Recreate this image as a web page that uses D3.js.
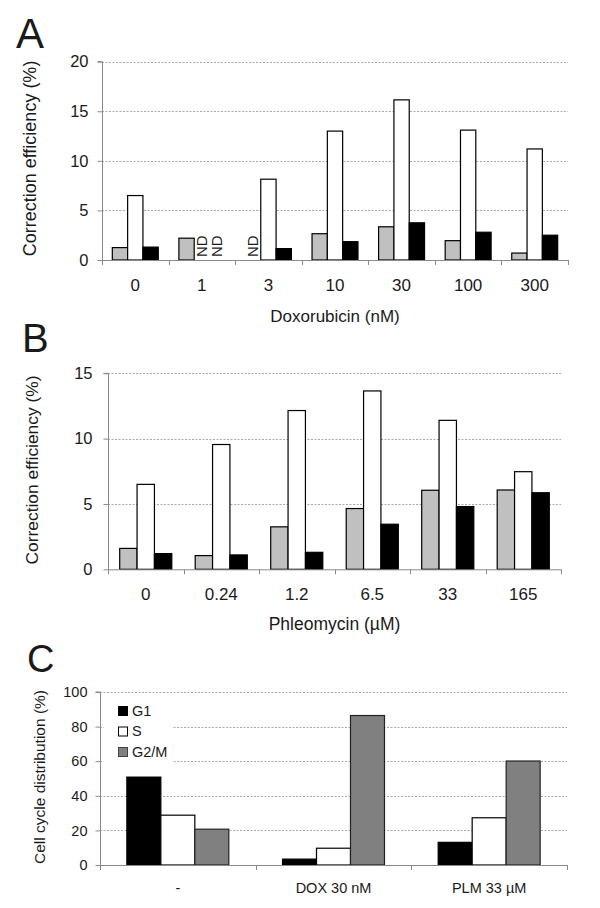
<!DOCTYPE html>
<html><head><meta charset="utf-8">
<script src="https://cdn.jsdelivr.net/npm/d3@7"></script>
<style>body{margin:0;background:#fff}svg{display:block}text{font-family:"Liberation Sans",Arial,sans-serif;fill:#1a1a1a}</style>
</head><body>
<svg id="fig" width="600" height="908"></svg>
<script>
// Panel A – Doxorubicin
const doxCategories = ["0","1","3","10","30","100","300"];
const doxGray  = [1.25, 2.2, null, 2.65, 3.35, 1.95, 0.7];
const doxWhite = [6.5, null, 8.15, 13.0, 16.15, 13.1, 11.2];
const doxBlack = [1.3, null, 1.15, 1.85, 3.75, 2.8, 2.5];
const doxTicks = [0,5,10,15,20];
// ND markers: [category, series]
const doxND = [["1","white"],["1","black"],["3","gray"]];

// Panel B – Phleomycin
const phlCategories = ["0","0.24","1.2","6.5","33","165"];
const phlGray  = [1.6, 1.05, 3.25, 4.65, 6.05, 6.07];
const phlWhite = [6.5, 9.55, 12.15, 13.65, 11.4, 7.47];
const phlBlack = [1.2, 1.1, 1.3, 3.45, 4.8, 5.86];
const phlTicks = [0,5,10,15];

// Panel C – Cell cycle
const cycleCategories = ["-","DOX 30 nM","PLM 33 \u00B5M"];
const cycleSeries = ["G1","S","G2/M"];
const cycleG1  = [50.8, 3.4, 13.1];
const cycleS   = [28.8, 9.7, 27.3];
const cycleG2M = [20.7, 86.4, 60.1];
const cycleTicks = [0,20,40,60,80,100];

const svg = d3.select("#fig");

function panel(o){
  const g = svg.append("g");
  const y = d3.scaleLinear().domain([0, o.ymax]).range([o.y0, o.ytop]);
  const x0 = d3.scaleBand().domain(o.categories).range([o.left, o.right]);
  const bw = x0.bandwidth();
  const pad = bw*(1-o.groupFrac)/2;
  const x1 = d3.scaleBand().domain(o.series.map(s=>s.key)).range([pad, bw-pad]);

  // gridlines
  g.append("g").selectAll("line").data(o.ticks.filter(t=>t>0)).join("line")
    .attr("x1", o.left).attr("x2", o.right)
    .attr("y1", d=>Math.round(y(d))+0.5).attr("y2", d=>Math.round(y(d))+0.5)
    .attr("stroke", "#a8a8a8").attr("stroke-dasharray","2,1.5").attr("stroke-width",1);

  // y axis
  const ya = g.append("g").attr("transform", `translate(${Math.round(o.left)+0.5},0)`)
    .call(d3.axisLeft(y).tickValues(o.ticks).tickSize(5).tickPadding(o.yPad).tickFormat(d3.format("d")));
  ya.attr("font-size", o.yFont).attr("font-family","Liberation Sans, Arial, sans-serif");
  ya.select(".domain").attr("stroke","#8a8a8a").attr("d", `M-5,${y(o.ymax)}H0V${o.y0}`);
  ya.selectAll(".tick line").attr("stroke","#8a8a8a");
  ya.selectAll(".tick text").attr("font-size", o.yFont).attr("fill","#1a1a1a");

  // bars
  o.series.forEach(s=>{
    g.append("g").selectAll("rect")
      .data(o.categories.map((c,i)=>({c, v:s.values[i]})).filter(d=>d.v!=null))
      .join("rect")
      .attr("x", d=>x0(d.c)+x1(s.key))
      .attr("width", x1.bandwidth())
      .attr("y", d=>y(d.v))
      .attr("height", d=>o.y0-y(d.v))
      .attr("fill", s.fill).attr("stroke", s.stroke).attr("stroke-width", 1.2);
  });

  // x axis baseline and ticks at category boundaries
  const bounds = o.categories.map(c=>x0(c)).concat([o.right]);
  g.append("line").attr("x1",o.left).attr("x2",o.right).attr("y1",o.y0+0.5).attr("y2",o.y0+0.5)
    .attr("stroke","#8a8a8a");
  g.append("g").selectAll("line").data(bounds).join("line")
    .attr("x1",d=>Math.round(d)+0.5).attr("x2",d=>Math.round(d)+0.5)
    .attr("y1",o.y0).attr("y2",o.y0+5).attr("stroke","#8a8a8a");
  g.append("g").selectAll("text").data(o.categories).join("text")
    .attr("x", d=>x0(d)+bw/2).attr("y", o.xLabelY)
    .attr("text-anchor","middle").attr("font-size", o.xFont).text(d=>d);

  // titles
  if (o.xTitle) g.append("text").attr("x",(o.left+o.right)/2).attr("y",o.xTitleY)
    .attr("text-anchor","middle").attr("font-size",o.xTitleFont).text(o.xTitle);
  let holder = g;
  if (o.yTitleClip){
    const id = "clip-" + o.letter;
    svg.append("clipPath").attr("id",id).append("rect")
      .attr("x",0).attr("y",o.yTitleClip).attr("width",95).attr("height",300);
    holder = g.append("g").attr("clip-path",`url(#${id})`);
  }
  holder.append("text")
    .attr("transform",`translate(${o.yTitleX},${o.yTitleY}) rotate(-90)`)
    .attr("text-anchor",o.yTitleAnchor).attr("dominant-baseline","middle")
    .attr("font-size",o.yTitleFont).text(o.yTitle);
  g.append("text").attr("x",o.letterX).attr("y",o.letterY).attr("font-size",o.letterFont).text(o.letter);
  return {g, x0, x1, y};
}

const A = panel({
  categories: doxCategories,
  series: [
    {key:"gray", values:doxGray, fill:"#c0c0c0", stroke:"#000"},
    {key:"white", values:doxWhite, fill:"#fff", stroke:"#000"},
    {key:"black", values:doxBlack, fill:"#000", stroke:"#000"}],
  ymax:20, ticks:doxTicks, left:102, right:568, y0:260, ytop:61.7, groupFrac:0.69,
  yFont:16.5, yPad:9, xFont:17, xLabelY:291,
  xTitle:"Doxorubicin (nM)", xTitleY:322, xTitleFont:17,
  yTitle:"Correction efficiency (%)", yTitleX:31.5, yTitleY:158.5, yTitleAnchor:"middle", yTitleFont:18,
  letter:"A", letterX:16, letterY:48, letterFont:42
});
// ND labels
A.g.append("g").selectAll("text").data(doxND).join("text")
  .attr("transform", d=>`translate(${A.x0(d[0])+A.x1(d[1])+A.x1.bandwidth()/2+1},${257}) rotate(-90)`)
  .attr("dominant-baseline","middle").attr("font-size",15).text("ND");

panel({
  categories: phlCategories,
  series: [
    {key:"gray", values:phlGray, fill:"#c0c0c0", stroke:"#000"},
    {key:"white", values:phlWhite, fill:"#fff", stroke:"#000"},
    {key:"black", values:phlBlack, fill:"#000", stroke:"#000"}],
  ymax:15, ticks:phlTicks, left:108, right:561, y0:569.3, ytop:373.3, groupFrac:0.69,
  yFont:16.5, yPad:11, xFont:17, xLabelY:600,
  xTitle:"Phleomycin (\u00B5M)", xTitleY:630, xTitleFont:17.5,
  yTitle:"Correction efficiency (%)", yTitleX:33.5, yTitleY:470, yTitleAnchor:"middle", yTitleFont:17.4,
  letter:"B", letterX:22, letterY:352, letterFont:40
});

const C = panel({
  categories: cycleCategories,
  series: [
    {key:"G1", values:cycleG1, fill:"#000", stroke:"#000"},
    {key:"S", values:cycleS, fill:"#fff", stroke:"#000"},
    {key:"G2/M", values:cycleG2M, fill:"#808080", stroke:"#222"}],
  ymax:100, ticks:cycleTicks, left:100, right:567, y0:865, ytop:692, groupFrac:0.655,
  yFont:14.5, yPad:8, xFont:14.5, xLabelY:893,
  xTitle:null,
  yTitle:"Cell cycle distribution (%)", yTitleX:41, yTitleY:864, yTitleAnchor:"start", yTitleFont:15.5,
  yTitleClip:691,
  letter:"C", letterX:27, letterY:672, letterFont:38
});
// Legend for C
const legendFills = {"G1":"#000","S":"#fff","G2/M":"#808080"};
const lg = C.g.append("g");
lg.append("rect").attr("x",104).attr("y",697).attr("width",68).attr("height",68).attr("fill","#fff");
const items = lg.selectAll("g").data(cycleSeries).join("g")
  .attr("transform",(d,i)=>`translate(118,${706 + i*20.5})`);
items.append("rect").attr("width",9).attr("height",9).attr("x",0.5).attr("y",0.5)
  .attr("fill",d=>legendFills[d]).attr("stroke",d=>d==="G2/M"?"#444":"#000");
items.append("text").attr("x",14).attr("y",9.5).attr("font-size",14.5).text(d=>d);
</script>
</body></html>
